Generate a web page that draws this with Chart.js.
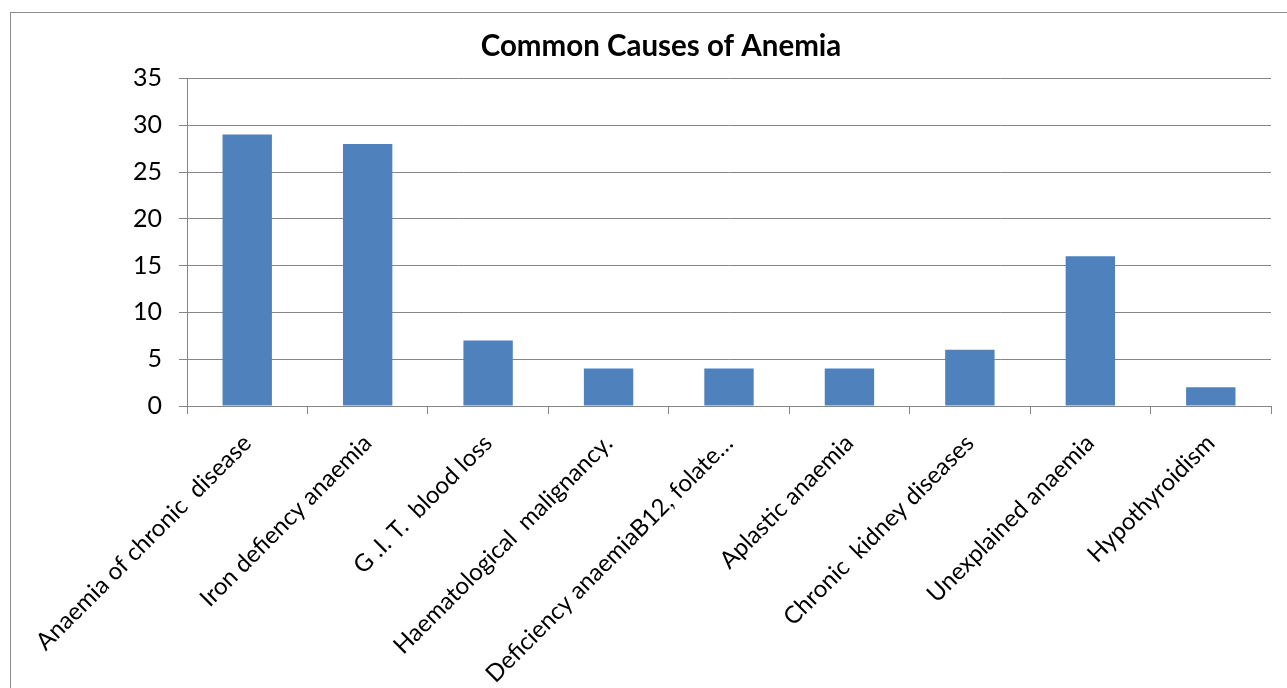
<!DOCTYPE html>
<html>
<head>
<meta charset="utf-8">
<script src="https://cdn.jsdelivr.net/npm/chart.js@4.4.1/dist/chart.umd.min.js"></script>
<style>
    html, body { margin: 0; padding: 0; background: #fff; }
    #wrap { position: relative; width: 1287px; height: 688px; overflow: hidden; }
    #frame {
        position: absolute; left: 10px; top: 12px;
        width: 1400px; height: 800px;
        border: 1px solid #8c8c8c;
    }
    #chart { position: absolute; left: 0; top: 0; }
</style>
</head>
<body>
<div id="wrap">
    <div id="frame"></div>
    <canvas id="chart" width="1287" height="688"></canvas>
</div>
<script>
const causes = [
    'Anaemia of chronic  disease',
    'Iron defiency anaemia',
    'G .I. T.  blood loss',
    'Haematological  malignancy.',
    'Deficiency anaemiaB12, folate\u2026',
    'Aplastic anaemia',
    'Chronic  kidney diseases',
    'Unexplained anaemia',
    'Hypothyroidism'
];
const patients = [29, 28, 7, 4, 4, 4, 6, 16, 2];
const yTicks = [0, 5, 10, 15, 20, 25, 30, 35];

const axisGrey = '#868686';
const fontFamily = 'Lato, "Liberation Sans", sans-serif';

const ctx = document.getElementById('chart').getContext('2d');
new Chart(ctx, {
    type: 'bar',
    data: {
        labels: causes,
        datasets: [{
            data: patients,
            backgroundColor: '#4F81BD',
            borderWidth: 0,
            categoryPercentage: 1,
            barPercentage: 0.41
        }]
    },
    options: {
        responsive: false,
        animation: false,
        layout: { padding: { left: 51, right: 16, top: 0, bottom: 0 } },
        scales: {
            x: {
                grid: {
                    display: true,
                    drawOnChartArea: false,
                    drawTicks: true,
                    tickLength: 8,
                    offset: true,
                    color: axisGrey
                },
                border: { display: true, color: axisGrey, width: 1 },
                ticks: {
                    color: '#000',
                    font: { family: fontFamily, size: 24 },
                    minRotation: 45,
                    maxRotation: 45,
                    autoSkip: false,
                    padding: 15
                },
                afterFit: function (scale) {
                    scale.height = 282;
                    scale.paddingLeft = 0;
                    scale.paddingRight = 0;
                }
            },
            y: {
                min: 0,
                max: 35,
                afterBuildTicks: function (scale) {
                    scale.ticks = yTicks.map(v => ({ value: v }));
                },
                grid: {
                    color: axisGrey,
                    drawTicks: true,
                    tickLength: 8
                },
                border: { display: true, color: axisGrey, width: 1 },
                ticks: {
                    color: '#000',
                    font: { family: fontFamily, size: 25 },
                    padding: 17
                },
                afterFit: function (scale) {
                    scale.width = 136;
                }
            }
        },
        plugins: {
            legend: { display: false },
            tooltip: { enabled: false },
            title: {
                display: true,
                text: 'Common Causes of Anemia',
                color: '#000',
                font: { family: fontFamily, size: 29.5, weight: 'bold' },
                padding: { top: 29, bottom: 14 }
            }
        }
    }
});
</script>
</body>
</html>
